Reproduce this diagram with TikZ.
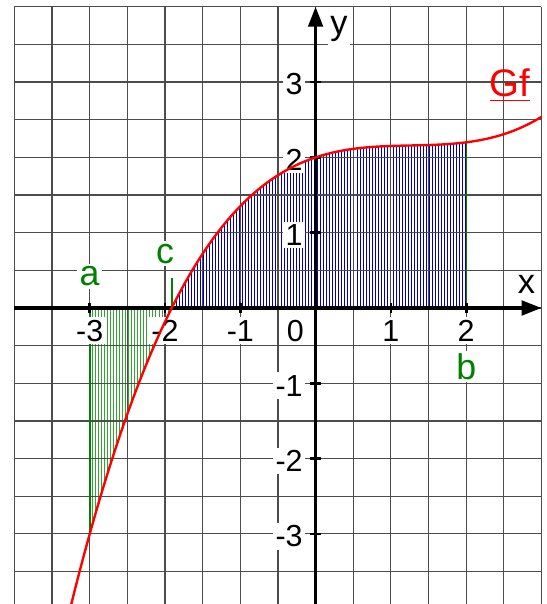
\documentclass[tikz,border=0pt]{standalone}
\usepackage{fontspec}
\setmainfont{Liberation Sans}
\usetikzlibrary{arrows.meta}

\begin{document}
\begin{tikzpicture}[x=1cm,y=1cm,
  declare function={f(\x)=0.0655*\x*\x*\x-0.248*\x*\x+0.334*\x+2;},
  ticklab/.style={fill=white,inner sep=1pt,font=\fontsize{11.5}{13}\selectfont},
  greenlab/.style={fill=white,inner sep=1pt,text=green!50!black,font=\fontsize{13.5}{15}\selectfont},
  axislab/.style={fill=white,inner sep=1pt,font=\fontsize{13}{15}\selectfont},
  hatchblue/.style={blue!70!black,line width=0.35pt},
  hatchgreen/.style={green!55!black!80,line width=0.35pt},
  bound/.style={green!50!black,line width=0.8pt}]
  \useasboundingbox (-4.191,-3.931) rectangle (3.073,4.090);

  % Hatched areas
  \foreach \x in {-1.89,-1.85,...,1.99} \draw[hatchblue] (\x,0) -- (\x,{f(\x)});
  \foreach \x in {-2.96,-2.92,...,-1.93} \draw[hatchgreen] (\x,0) -- (\x,{f(\x)});

  % Grid
  \draw[gray!60!black,line width=0.45pt] (-4,-3.95) grid[step=0.5] (3,4);

  % Borders of the areas
  \draw[bound] (-3,0) -- (-3,{f(-3)});
  \draw[bound,line width=0.5pt] (2,0) -- (2,{f(2)});
  \draw[bound] (-1.91,0) -- (-1.91,0.4);

  % Axes
  \draw[-{Triangle[length=7.5pt,width=5.5pt]},line width=1.2pt] (-4,0) -- (3,0);
  \draw[-{Triangle[length=7.5pt,width=5.5pt]},line width=1.2pt] (0,-3.95) -- (0,4);
  \node[axislab] (lblX) at (2.80,0.31) {x};
  \node[axislab] (lblY) at (0.31,3.70) {y};

  % Ticks
  \foreach \x/\lab in {-3/-3,-2/-2,-1/-1,1/1,2/2} {
    \draw[line width=1pt] (\x,-0.07) -- (\x,0.07);
    \node[ticklab] (tx\lab) at (\x,-0.30) {\lab};
  }
  \node[ticklab] (tx0) at (-0.27,-0.30) {0};
  \foreach \y/\lab in {-3/-3,-2/-2,-1/-1,1/1,2/2,3/3} {
    \draw[line width=1pt] (-0.07,\y) -- (0.07,\y);
    \node[ticklab,anchor=east] (ty\lab) at (-0.13,\y-0.03) {\lab};
  }

  % Graph
  \draw[red,line width=0.9pt] plot[domain=-3.25:3,samples=80,smooth] (\x,{f(\x)});
  \node[text=red,font=\fontsize{14.5}{16}\selectfont] (lblGf) at (2.58,2.96) {\underline{Gf}};

  % Bounds
  \node[greenlab] (lblA) at (-3,0.42) {a};
  \node[greenlab] (lblC) at (-2.0,0.72) {c};
  \node[greenlab] (lblB) at (2,-0.78) {b};
\end{tikzpicture}
\end{document}
